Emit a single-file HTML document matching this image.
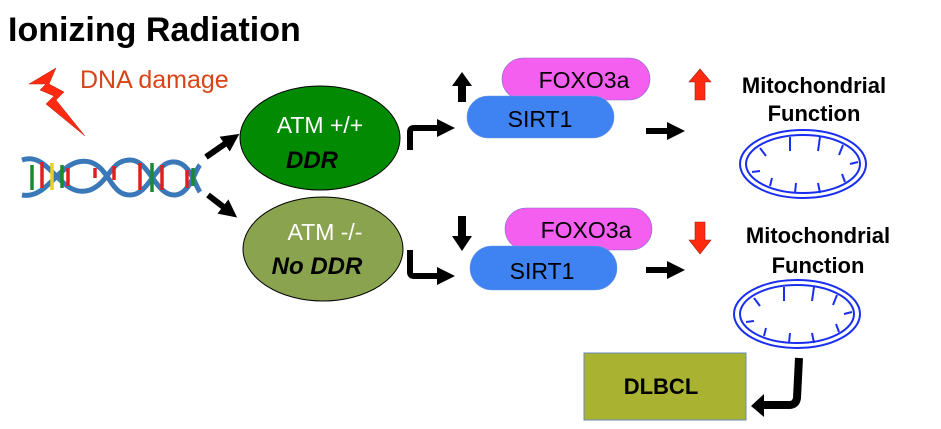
<!DOCTYPE html>
<html><head><meta charset="utf-8"><style>
html,body{margin:0;padding:0;background:#fff;}
svg{display:block;font-family:"Liberation Sans",Arial,sans-serif;}
</style></head><body>
<svg width="941" height="429" viewBox="0 0 941 429" xmlns="http://www.w3.org/2000/svg">
<defs>
<marker id="ah" markerWidth="3" markerHeight="3" refX="1.5" refY="1.5" orient="auto" markerUnits="strokeWidth"><path d="M0,0 L3,1.5 L0,3 z" fill="#000"/></marker>
</defs>
<text x="8" y="41" font-size="34" font-weight="bold" fill="#000">Ionizing Radiation</text>
<!-- lightning -->
<polygon points="29,84 56,68 49,84 64,92 56,100 85,136 46,104 54,96 40,90 46,84" fill="#ff2a10" stroke="#b02010" stroke-width="0.5"/>
<text x="80" y="88" font-size="25" fill="#d84418">DNA damage</text>
<!-- DNA -->
<g stroke="#3a78b8" stroke-width="5" fill="none">
<path d="M22,160 C50,150 60,200 90,190 C110,182 110,160 130,160 C150,160 155,196 175,195 C190,194 195,170 200,165"/>
<path d="M22,195 C50,200 60,155 90,162 C110,168 110,195 130,195 C150,195 155,160 175,162 C190,163 195,185 200,192"/>
</g>
<g stroke-width="3.5">
<line x1="32" y1="165" x2="32" y2="190" stroke="#1a8a30"/><line x1="42" y1="162" x2="42" y2="188" stroke="#e02020"/>
<line x1="52" y1="163" x2="52" y2="190" stroke="#e8d020"/><line x1="62" y1="165" x2="62" y2="188" stroke="#1a8a30"/>
<line x1="68" y1="168" x2="68" y2="186" stroke="#e02020"/><line x1="95" y1="168" x2="95" y2="178" stroke="#e02020"/>
<line x1="114" y1="166" x2="114" y2="180" stroke="#e02020"/><line x1="140" y1="163" x2="140" y2="190" stroke="#e02020"/>
<line x1="152" y1="163" x2="152" y2="192" stroke="#1a8a30"/><line x1="162" y1="165" x2="162" y2="190" stroke="#e02020"/>
<line x1="187" y1="170" x2="187" y2="188" stroke="#e02020"/><line x1="193" y1="168" x2="193" y2="186" stroke="#1a8a30"/>
</g>
<!-- arrows from DNA -->
<line x1="206" y1="157" x2="232" y2="139" stroke="#000" stroke-width="6" marker-end="url(#ah)"/>
<line x1="208" y1="195" x2="230" y2="212" stroke="#000" stroke-width="6" marker-end="url(#ah)"/>
<!-- ellipses -->
<ellipse cx="320" cy="138" rx="80" ry="52" fill="#028b02" stroke="#000" stroke-width="1"/>
<text x="320" y="133" font-size="23" fill="#fff" text-anchor="middle">ATM +/+</text>
<text x="312" y="168" font-size="24" font-weight="bold" font-style="italic" fill="#000" text-anchor="middle">DDR</text>
<ellipse cx="323" cy="249" rx="80" ry="52" fill="#8aa34e" stroke="#000" stroke-width="1"/>
<text x="325" y="240" font-size="23" fill="#fff" text-anchor="middle">ATM -/-</text>
<text x="317" y="274" font-size="24" font-weight="bold" font-style="italic" fill="#000" text-anchor="middle">No DDR</text>
<!-- bent arrows -->
<path d="M410,150 L410,132 Q410,128 414,128 L446,128" stroke="#000" stroke-width="6" fill="none" marker-end="url(#ah)"/>
<path d="M410,250 L410,272 Q410,276 414,276 L446,276" stroke="#000" stroke-width="6" fill="none" marker-end="url(#ah)"/>
<!-- up/down arrows -->
<path d="M452,86 L462,72 L472,86 L466,86 L466,102 L458,102 L458,86 Z" fill="#000"/>
<path d="M452,236 L472,236 L462,251 Z M458,216 L466,216 L466,237 L458,237 Z" fill="#000"/>
<!-- pills -->
<rect x="502" y="58" width="148" height="42" rx="21" fill="#f45ff0" stroke="#7a6ad0" stroke-width="0.6"/>
<text x="584" y="88" font-size="23" fill="#000" text-anchor="middle">FOXO3a</text>
<rect x="467" y="96" width="147" height="42" rx="21" fill="#3f82f2" stroke="#6a98e0" stroke-width="0.6"/>
<text x="540" y="127" font-size="23" fill="#000" text-anchor="middle">SIRT1</text>
<rect x="505" y="208" width="147" height="42" rx="21" fill="#f45ff0" stroke="#7a6ad0" stroke-width="0.6"/>
<text x="586" y="238" font-size="23" fill="#000" text-anchor="middle">FOXO3a</text>
<rect x="470" y="246" width="147" height="44" rx="22" fill="#3f82f2" stroke="#6a98e0" stroke-width="0.6"/>
<text x="542" y="279" font-size="23" fill="#000" text-anchor="middle">SIRT1</text>
<!-- right arrows -->
<line x1="646" y1="131" x2="676" y2="131" stroke="#000" stroke-width="6" marker-end="url(#ah)"/>
<line x1="646" y1="270" x2="676" y2="270" stroke="#000" stroke-width="6" marker-end="url(#ah)"/>
<!-- red arrows -->
<path d="M689,82 L700,69 L711,82 L705,82 L705,100 L695,100 L695,82 Z" fill="#ff2a10" stroke="#a02010" stroke-width="0.6"/>
<path d="M695,222 L705,222 L705,240 L711,240 L700,254 L689,240 L695,240 Z" fill="#ff2a10" stroke="#a02010" stroke-width="0.6"/>
<g font-size="22" font-weight="bold" fill="#000" text-anchor="middle">
<text x="814" y="93">Mitochondrial</text><text x="814" y="121">Function</text>
<text x="818" y="243">Mitochondrial</text><text x="818" y="273">Function</text>
</g>
<!-- mitochondria -->
<g stroke="#1a2ef0" stroke-width="2" fill="none">
<ellipse cx="803" cy="164" rx="63" ry="34"/>
<ellipse cx="803" cy="164" rx="57" ry="29"/>
<path d="M760,148 l6,8 M790,137 l0,14 M820,137 l-2,14 M843,145 l-4,10 M858,162 l-8,2 M845,182 l-3,-8 M820,193 l-2,-10 M795,193 l1,-10 M770,186 l2,-8 M752,172 l8,-1"/>
<ellipse cx="797" cy="314" rx="63" ry="34"/>
<ellipse cx="797" cy="314" rx="57" ry="29"/>
<path d="M754,298 l6,8 M784,287 l0,14 M814,287 l-2,14 M837,295 l-4,10 M852,312 l-8,2 M839,332 l-3,-8 M814,343 l-2,-10 M789,343 l1,-10 M764,336 l2,-8 M746,322 l8,-1"/>
</g>
<!-- DLBCL -->
<rect x="584" y="353" width="162" height="67" fill="#a9b331" stroke="#6a88b8" stroke-width="1"/>
<text x="661" y="394" font-size="22" font-weight="bold" fill="#000" text-anchor="middle">DLBCL</text>
<!-- J arrow -->
<path d="M799,358 L797,398 Q796,405 789,405 L762,405" stroke="#000" stroke-width="8" fill="none"/>
<path d="M764,394 L751,406 L764,417 Z" fill="#000"/>
</svg>
</body></html>
